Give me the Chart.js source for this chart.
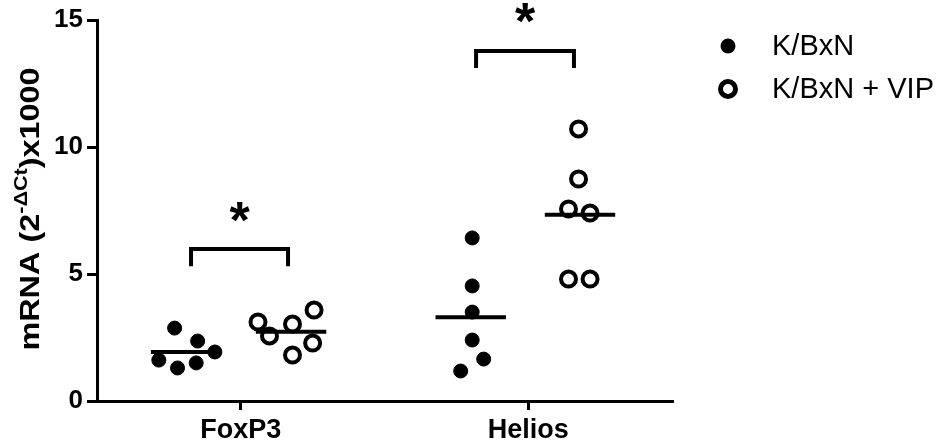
<!DOCTYPE html>
<html>
<head>
<meta charset="utf-8">
<script src="https://cdn.jsdelivr.net/npm/chart.js@4"></script>
<style>
  body { margin: 0; background: #fff; }
</style>
</head>
<body>
<canvas id="grafico" width="945" height="442"></canvas>
<script>
// ----- DADOS ----- //
const categorias = ['FoxP3', 'Helios'];
const categoriaX = [1, 3];
const serieNomes = ['K/BxN', 'K/BxN + VIP'];

// K/BxN (pontos cheios)
const kbxnX = [0.54, 0.70, 0.82, 0.43, 0.56, 0.69, 2.61, 2.61, 2.61, 2.61, 2.69, 2.53];
const kbxnY = [2.87, 2.36, 1.93, 1.61, 1.30, 1.50, 6.42, 4.53, 3.50, 2.40, 1.65, 1.18];

// K/BxN + VIP (pontos vazios)
const vipX = [1.12, 1.20, 1.36, 1.51, 1.36, 1.50, 3.35, 3.35, 3.28, 3.43, 3.28, 3.43];
const vipY = [3.11, 2.56, 3.03, 3.58, 1.81, 2.28, 10.71, 8.74, 7.56, 7.40, 4.80, 4.80];

// médias (linhas horizontais)
const mediaCentros = [0.62, 1.35, 2.60, 3.36];
const mediaValores = [1.93, 2.73, 3.30, 7.33];

// colchetes de significância
const colcheteX = [[0.654, 1.329], [2.637, 3.318]];
const colcheteTopo = [5.98, 13.78];
const colcheteBase = [5.31, 13.11];
const estrelaY = [7.44, 15.28];

const yTicks = [0, 5, 10, 15];

const preto = '#000';
const fonte = '"Liberation Sans", Arial, sans-serif';

function pontos(xs, ys) {
  return xs.map((x, i) => ({ x: x, y: ys[i] }));
}

let datasets = [];

mediaCentros.forEach((c, i) => {
  datasets.push({
    data: [{ x: c - 0.245, y: mediaValores[i] }, { x: c + 0.245, y: mediaValores[i] }],
    showLine: true, borderColor: preto, borderWidth: 4, pointRadius: 0
  });
});

colcheteX.forEach((par, i) => {
  datasets.push({
    data: [
      { x: par[0], y: colcheteBase[i] }, { x: par[0], y: colcheteTopo[i] },
      { x: par[1], y: colcheteTopo[i] }, { x: par[1], y: colcheteBase[i] }
    ],
    showLine: true, borderColor: preto, borderWidth: 4, pointRadius: 0,
    borderCapStyle: 'butt', borderJoinStyle: 'miter'
  });
});

datasets.push({
  label: serieNomes[0], data: pontos(kbxnX, kbxnY),
  pointRadius: 7, pointBackgroundColor: preto, pointBorderColor: preto, pointBorderWidth: 1
});
datasets.push({
  label: serieNomes[1], data: pontos(vipX, vipY),
  pointRadius: 7.5, pointBackgroundColor: '#fff', pointBorderColor: preto, pointBorderWidth: 4
});

// ---- título do eixo Y, estrelas e legenda ---- //
const extras = {
  id: 'extras',
  afterDraw(chart) {
    const ctx = chart.ctx;
    const xs = chart.scales.x, ys = chart.scales.y;

    // estrelas
    ctx.save();
    ctx.fillStyle = preto;
    ctx.font = 'bold 52px ' + fonte;
    ctx.textAlign = 'center';
    colcheteX.forEach((par, i) => {
      const m = ctx.measureText('*');
      const cx = xs.getPixelForValue((par[0] + par[1]) / 2);
      const cy = ys.getPixelForValue(estrelaY[i]);
      const off = (m.actualBoundingBoxAscent - m.actualBoundingBoxDescent) / 2;
      ctx.fillText('*', cx, cy + off);
    });
    ctx.restore();

    // título do eixo Y com sobrescrito
    ctx.save();
    ctx.translate(39, 209);
    ctx.rotate(-Math.PI / 2);
    ctx.scale(1.2, 1);
    ctx.fillStyle = preto;
    const fBase = 'bold 27px ' + fonte, fSup = 'bold 18px ' + fonte;
    const p1 = 'mRNA (2', p2 = '-ΔCt', p3 = ')x1000';
    ctx.font = fBase; const w1 = ctx.measureText(p1).width, w3 = ctx.measureText(p3).width;
    ctx.font = fSup; const w2 = ctx.measureText(p2).width;
    let x0 = -(w1 + w2 + w3) / 2;
    ctx.textBaseline = 'alphabetic';
    ctx.font = fBase; ctx.fillText(p1, x0, 0);
    ctx.font = fSup; ctx.fillText(p2, x0 + w1, -12);
    ctx.font = fBase; ctx.fillText(p3, x0 + w1 + w2, 0);
    ctx.restore();

    // legenda
    ctx.save();
    ctx.font = '29px ' + fonte;
    ctx.fillStyle = preto;
    ctx.textBaseline = 'middle';
    const linhas = [46, 89];
    linhas.forEach((ly, i) => {
      ctx.beginPath();
      if (i === 0) {
        ctx.arc(728, ly, 7.5, 0, Math.PI * 2);
        ctx.fill();
      } else {
        ctx.arc(728, ly, 7.5, 0, Math.PI * 2);
        ctx.lineWidth = 5;
        ctx.strokeStyle = preto;
        ctx.stroke();
      }
      ctx.fillText(serieNomes[i], 772, ly + 1);
    });
    ctx.restore();
  }
};

let grafico = new Chart(document.getElementById('grafico'), {
  type: 'scatter',
  data: { datasets: datasets },
  options: {
    responsive: false,
    animation: false,
    layout: { padding: { top: 20, right: 273, left: 0, bottom: 0 } },
    plugins: { legend: { display: false }, tooltip: { enabled: false } },
    scales: {
      x: {
        type: 'linear', min: 0, max: 4,
        afterBuildTicks: (ax) => { ax.ticks = categoriaX.map(v => ({ value: v })); },
        afterFit: (ax) => { ax.height = 41; },
        border: { color: preto, width: 3 },
        grid: { drawOnChartArea: false, color: preto, tickLength: 9, lineWidth: 3 },
        ticks: {
          autoSkip: false, maxRotation: 0, padding: 4, color: preto,
          font: { family: fonte, size: 27, weight: 'bold' },
          callback: (v) => categorias[categoriaX.indexOf(v)]
        }
      },
      y: {
        min: 0, max: 15,
        afterBuildTicks: (ax) => { ax.ticks = yTicks.map(v => ({ value: v })); },
        afterFit: (ax) => { ax.width = 97; },
        border: { color: preto, width: 3 },
        grid: { drawOnChartArea: false, color: preto, tickLength: 10, lineWidth: 3 },
        ticks: {
          padding: 4, color: preto,
          font: { family: fonte, size: 26, weight: 'bold' }
        }
      }
    }
  },
  plugins: [extras]
});
</script>
</body>
</html>
